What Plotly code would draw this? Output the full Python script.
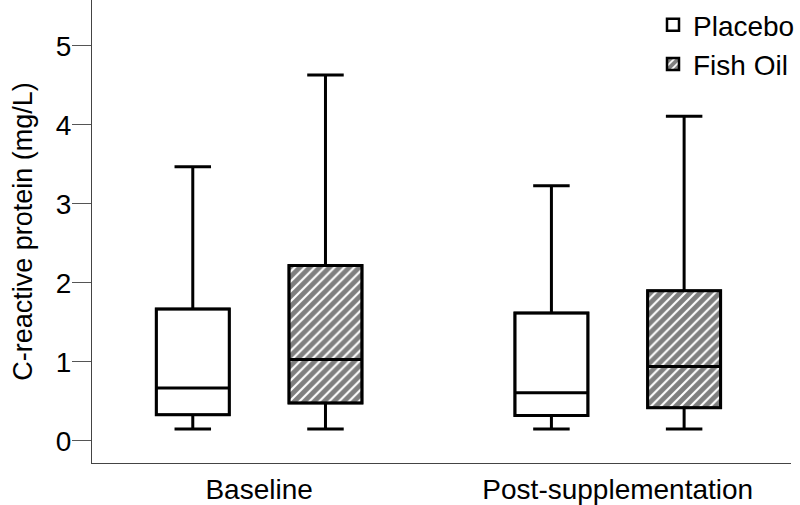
import plotly.graph_objects as go

# data (mg/L)
timepoints = ["Baseline", "Post-supplementation"]
groups = ["Placebo", "Fish Oil"]

placebo_low = [0.15, 0.15]
placebo_q1 = [0.33, 0.32]
placebo_med = [0.67, 0.61]
placebo_q3 = [1.67, 1.62]
placebo_high = [3.47, 3.23]

fish_low = [0.15, 0.15]
fish_q1 = [0.48, 0.42]
fish_med = [1.03, 0.94]
fish_q3 = [2.22, 1.90]
fish_high = [4.63, 4.11]

y_ticks = [0, 1, 2, 3, 4, 5]

FONT = "Liberation Sans, Arial, sans-serif"

fig = go.Figure()

series = [
    (groups[0], placebo_low, placebo_q1, placebo_med, placebo_q3, placebo_high, ""),
    (groups[1], fish_low, fish_q1, fish_med, fish_q3, fish_high, "/"),
]

# bars give the fill (and hatch) of each box
for name, lo, q1, med, q3, hi, hatch in series:
    fig.add_trace(go.Bar(
        x=timepoints,
        base=q1,
        y=[b - a for a, b in zip(q1, q3)],
        name=name,
        offsetgroup=name,
        marker=dict(
            color="white",
            line=dict(color="black", width=2.5),
            pattern=dict(shape=hatch, fgcolor="black", bgcolor="white",
                         size=7, solidity=0.7),
        ),
        hoverinfo="skip",
    ))

# the box outlines, medians and whiskers
for name, lo, q1, med, q3, hi, hatch in series:
    fig.add_trace(go.Box(
        x=timepoints,
        lowerfence=lo,
        q1=q1,
        median=med,
        q3=q3,
        upperfence=hi,
        name=name,
        offsetgroup=name,
        fillcolor="rgba(0,0,0,0)",
        line=dict(color="black", width=3),
        whiskerwidth=0.5,
        showlegend=False,
    ))

fig.update_layout(
    width=800,
    height=505,
    margin=dict(l=92, r=0, t=0, b=42),
    plot_bgcolor="white",
    paper_bgcolor="white",
    font=dict(family=FONT, color="black", size=28),
    barmode="group",
    bargap=0.26,
    bargroupgap=0.45,
    boxmode="group",
    boxgap=0.26,
    boxgroupgap=0.45,
    showlegend=True,
    legend=dict(
        x=0.803, y=1.0, xanchor="left", yanchor="top",
        font=dict(size=28),
        bgcolor="rgba(0,0,0,0)",
        tracegroupgap=0,
    ),
)

fig.update_xaxes(
    range=[-0.466, 1.483],
    showline=True, linecolor="#444444", linewidth=1,
    ticks="", ticklabelstandoff=1,
    showgrid=False, zeroline=False, automargin=False,
    tickfont=dict(size=28),
)
fig.update_yaxes(
    range=[-0.28, 5.58],
    tickvals=y_ticks,
    showline=True, linecolor="#444444", linewidth=1,
    ticks="outside", ticklen=19, tickcolor="#555555", tickwidth=1,
    ticklabelstandoff=-5,
    showgrid=False, zeroline=False, automargin=False,
    tickfont=dict(size=28),
    title=dict(text="C-reactive protein (mg/L)", font=dict(size=27)),
)

fig.write_html(
    "out.html",
    config={"displayModeBar": False},
    post_script="document.body.style.margin='0';",
)
